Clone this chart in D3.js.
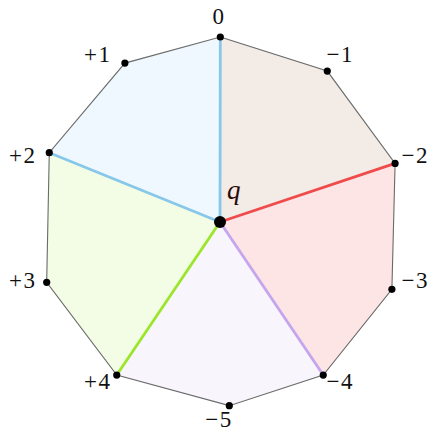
<!DOCTYPE html>
<html lang="en">
<head>
    <title>Decagon around q</title>
    <style>
        body, html { margin: 0; height: 100%; overflow: hidden; background: #fff; }
        svg { display: block; }
        .lbl { font-family: "Liberation Serif", "DejaVu Serif", serif; font-size: 23px; fill: #111; letter-spacing: 1.5px; }
    </style>
    <script src="https://d3js.org/d3.v7.min.js"></script>
</head>
<body>
    <svg></svg>
    <script>
        // vertices, clockwise starting at the top
        const labels = ["0", "\u22121", "\u22122", "\u22123", "\u22124", "\u22125", "+4", "+3", "+2", "+1"];
        const angles = [0.1, 35.4, 71.5, 111.4, 146.0, 177.1, 214.0, 250.8, 292.1, 329.1];
        const radii  = [1.0, 1.001, 0.998, 0.998, 0.998, 0.994, 0.998, 0.992, 0.996, 1.001];

        // wedges: each spans three consecutive vertices starting at an even index
        const wedgeStarts = [0, 2, 4, 6, 8];
        const wedgeFills = ["#f3ebe5", "#fde5e5", "#f9f5fd", "#f3fde6", "#eff8fe"];
        const spokeColors = ["#87c8ea", "#ef4b4b", "#c4a5ee", "#9be52a", "#87c8ea"];

        const width = 428, height = 432;
        const cx = 220, cy = 222, R = 185;

        const svg = d3.select("svg").attr("width", width).attr("height", height);

        const x = d3.scaleLinear().domain([-1, 1]).range([cx - R, cx + R]);
        const y = d3.scaleLinear().domain([-1, 1]).range([cy - R, cy + R]);
        const rad = d3.scaleLinear().domain([0, 360]).range([0, 2 * Math.PI]);

        const pts = angles.map((a, i) => {
            const p = d3.pointRadial(rad(a), radii[i]);
            return [x(p[0]), y(p[1])];
        });
        const q = [x(0), y(0)];
        const n = pts.length;

        // wedge fills
        svg.append("g").selectAll("path")
            .data(wedgeStarts)
            .join("path")
            .attr("d", s => d3.line()([q, pts[s], pts[(s + 1) % n], pts[(s + 2) % n]]) + "Z")
            .attr("fill", (s, i) => wedgeFills[i])
            .attr("stroke", (s, i) => wedgeFills[i])
            .attr("stroke-width", 0.5);

        // outline
        svg.append("path")
            .attr("d", d3.line()(pts) + "Z")
            .attr("fill", "none")
            .attr("stroke", "#6b6b6b")
            .attr("stroke-width", 1.1);

        // spokes
        svg.append("g").selectAll("line")
            .data(wedgeStarts)
            .join("line")
            .attr("x1", q[0]).attr("y1", q[1])
            .attr("x2", s => pts[s][0]).attr("y2", s => pts[s][1])
            .attr("stroke", (s, i) => spokeColors[i])
            .attr("stroke-width", 2.8);

        // vertex dots
        svg.append("g").selectAll("circle")
            .data(pts)
            .join("circle")
            .attr("cx", d => d[0]).attr("cy", d => d[1])
            .attr("r", 3.6)
            .attr("fill", "#000");

        svg.append("circle")
            .attr("cx", q[0]).attr("cy", q[1])
            .attr("r", 6)
            .attr("fill", "#000");

        // labels at evenly spaced angles on a slightly flattened ring
        const lrx = 1.115, lry = 1.09, ldx = -1, ldy = -4;
        const lpos = i => d3.pointRadial(rad(i * 36), 1);
        svg.append("g").selectAll("text")
            .data(labels)
            .join("text")
            .attr("class", "lbl")
            .attr("text-anchor", "middle")
            .attr("x", (d, i) => x(lpos(i)[0] * lrx) + ldx)
            .attr("y", (d, i) => y(lpos(i)[1] * lry) + ldy + 7.5)
            .text(d => d);

        svg.append("text")
            .attr("x", q[0] + 7)
            .attr("y", q[1] - 23)
            .attr("font-family", "'Liberation Serif', 'DejaVu Serif', serif")
            .attr("font-style", "italic")
            .attr("font-size", 27)
            .attr("fill", "#2a0a0a")
            .text("q");
    </script>
</body>
</html>
